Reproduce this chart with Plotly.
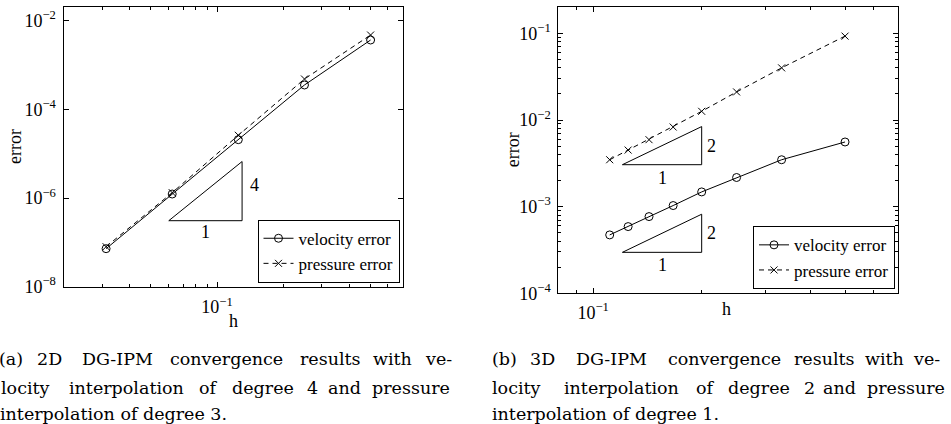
import numpy as np
import plotly.graph_objects as go

W, H = 951, 424

# ---------------- data ----------------
h_2d = [1/32, 1/16, 1/8, 1/4, 1/2]
vel_2d = [7.2e-8, 1.23e-6, 2.07e-5, 3.54e-4, 3.66e-3]
pre_2d = [7.98e-8, 1.32e-6, 2.6e-5, 4.83e-4, 4.74e-3]

h_3d = [1/9, 1/8, 1/7, 1/6, 1/5, 1/4, 1/3, 1/2]
vel_3d = [4.72e-4, 5.89e-4, 7.68e-4, 1.03e-3, 1.48e-3, 2.17e-3, 3.48e-3, 5.58e-3]
pre_3d = [3.48e-3, 4.5e-3, 5.93e-3, 8.3e-3, 1.26e-2, 2.11e-2, 4.0e-2, 9.3e-2]

# slope triangles: (h0, h1, e0, order)
tri_2d = [(0.0603, 0.130, 3.08e-7, 4)]
tri_3d = [(0.1205, 0.2, 3.05e-3, 2), (0.1205, 0.2, 2.97e-4, 2)]

# ticks
x2d_major = [0.1]
x2d_major_text = ["10<sup>\u22121</sup>"]
x2d_minor = [0.03, 0.04, 0.05, 0.06, 0.07, 0.08, 0.09, 0.2, 0.3, 0.4, 0.5, 0.6]
y2d_major = [1e-8, 1e-6, 1e-4, 1e-2]
y2d_major_text = ["10<sup>\u22128</sup>", "10<sup>\u22126</sup>", "10<sup>\u22124</sup>", "10<sup>\u22122</sup>"]

x3d_major = [0.1]
x3d_major_text = ["10<sup>\u22121</sup>"]
x3d_minor = [0.09, 0.2, 0.3, 0.4, 0.5, 0.6]
y3d_major = [1e-4, 1e-3, 1e-2, 1e-1]
y3d_major_text = ["10<sup>\u22124</sup>", "10<sup>\u22123</sup>", "10<sup>\u22122</sup>", "10<sup>\u22121</sup>"]
y3d_minor = [m * d for d in [1e-4, 1e-3, 1e-2, 1e-1] for m in range(2, 10)]

x2d_range = [0.02, 0.7]
y2d_range = [1e-8, 0.02]
x3d_range = [0.08, 0.7]
y3d_range = [1e-4, 0.2]

cap_a = [
    (["(a)", "2D", "DG-IPM", "convergence", "results", "with", "ve-"],
     [11, 49.5, 117, 226, 330, 392, 438]),
    (["locity", "interpolation", "of", "degree", "4", "and", "pressure"],
     [25, 126.3, 208.8, 263, 312.2, 344.7, 411]),
]
cap_a_last = "interpolation of degree 3."
cap_b = [
    (["(b)", "3D", "DG-IPM", "convergence", "results", "with", "ve-"],
     [504.1, 542.2, 611.3, 724.3, 824.3, 884, 926]),
    (["locity", "interpolation", "of", "degree", "2", "and", "pressure"],
     [516.9, 621.5, 705.5, 759, 809.5, 839, 906]),
]
cap_b_last = "interpolation of degree 1."

# ---------------- style ----------------
TIMES = "Liberation Serif, Times New Roman, serif"
CAPF = "DejaVu Serif, serif"
CAP_SIZE = 17.5
BLACK = "#000000"

fig = go.Figure()

def add_series(xa, ya, h, vel, pre, legend):
    fig.add_trace(go.Scatter(
        x=h, y=vel, mode="lines+markers", name="velocity error",
        xaxis=xa, yaxis=ya, legend=legend,
        line=dict(color=BLACK, width=1),
        marker=dict(symbol="circle-open", size=8, color=BLACK, line=dict(width=1, color=BLACK)),
    ))
    fig.add_trace(go.Scatter(
        x=h, y=pre, mode="lines+markers", name="pressure error",
        xaxis=xa, yaxis=ya, legend=legend,
        line=dict(color=BLACK, width=1, dash="5px,4px"),
        marker=dict(symbol="x-thin-open", size=7, color=BLACK, line=dict(width=1, color=BLACK)),
    ))

def add_triangles(xa, ya, tris):
    for (h0, h1, e0, p) in tris:
        e1 = e0 * (h1 / h0) ** p
        fig.add_trace(go.Scatter(
            x=[h0, h1, h1, h0], y=[e0, e0, e1, e0], mode="lines",
            xaxis=xa, yaxis=ya, showlegend=False, hoverinfo="skip",
            line=dict(color=BLACK, width=1),
        ))

add_series("x", "y", h_2d, vel_2d, pre_2d, "legend")
add_series("x2", "y2", h_3d, vel_3d, pre_3d, "legend2")
add_triangles("x", "y", tri_2d)
add_triangles("x2", "y2", tri_3d)

def px_x(p):
    return p / W

def px_y(p):
    return 1 - p / H

def log_axis(domain, rng, tv, tt, minor_vals, anchor, standoff):
    d = dict(
        type="log", domain=domain, range=[np.log10(rng[0]), np.log10(rng[1])],
        anchor=anchor, showline=True, linecolor=BLACK, linewidth=1,
        mirror="allticks", ticks="inside", ticklen=5, tickwidth=1, tickcolor=BLACK,
        tickmode="array", tickvals=tv, ticktext=tt,
        showgrid=False, zeroline=False, automargin=False,
        tickfont=dict(family=TIMES, size=18, color=BLACK),
        ticklabelstandoff=standoff,
    )
    if minor_vals:
        d["minor"] = dict(tickmode="array", tickvals=minor_vals, ticks="inside",
                          ticklen=3, tickwidth=1, tickcolor=BLACK, showgrid=False)
    return d

fig.update_layout(
    width=W, height=H, margin=dict(l=0, r=0, t=0, b=0, pad=0, autoexpand=False),
    paper_bgcolor="white", plot_bgcolor="white",
    xaxis=log_axis([px_x(63.5), px_x(402.7)], x2d_range, x2d_major, x2d_major_text, x2d_minor, "y", 4),
    yaxis=log_axis([px_y(286.7), px_y(7.3)], y2d_range, y2d_major, y2d_major_text, None, "x", 3),
    xaxis2=log_axis([px_x(558.3), px_x(897.7)], x3d_range, x3d_major, x3d_major_text, x3d_minor, "y2", 3),
    yaxis2=log_axis([px_y(293.3), px_y(7.3)], y3d_range, y3d_major, y3d_major_text, y3d_minor, "x2", 3),
    legend=dict(x=px_x(399.5), y=px_y(282.7), xanchor="right", yanchor="bottom",
                bgcolor="white", bordercolor=BLACK, borderwidth=1,
                font=dict(family=TIMES, size=17, color=BLACK), tracegroupgap=0),
    legend2=dict(x=px_x(895), y=px_y(289.3), xanchor="right", yanchor="bottom",
                 bgcolor="white", bordercolor=BLACK, borderwidth=1,
                 font=dict(family=TIMES, size=17, color=BLACK), tracegroupgap=0),
    showlegend=True,
)

ann = []
# axis titles
for (x, y) in [(15, 147), (513.3, 150)]:
    ann.append(dict(text="error", x=px_x(x), y=px_y(y), xref="paper", yref="paper",
                    textangle=-90, showarrow=False, xanchor="center", yanchor="middle",
                    font=dict(family=TIMES, size=18, color=BLACK)))
for (x, y) in [(233, 321), (726.7, 309)]:
    ann.append(dict(text="h", x=px_x(x), y=px_y(y), xref="paper", yref="paper",
                    showarrow=False, xanchor="center", yanchor="middle",
                    font=dict(family=TIMES, size=18, color=BLACK)))

# triangle labels
def tri_labels(xr, yr, tris, shift_order, shift_one):
    for (h0, h1, e0, p) in tris:
        e1 = e0 * (h1 / h0) ** p
        ann.append(dict(text=str(p), x=np.log10(h1), y=(np.log10(e0) + np.log10(e1)) / 2,
                        xref=xr, yref=yr, showarrow=False, xanchor="center", yanchor="middle",
                        xshift=shift_order[0], yshift=shift_order[1],
                        font=dict(family=TIMES, size=18, color=BLACK)))
        ann.append(dict(text="1", x=(np.log10(h0) + np.log10(h1)) / 2, y=np.log10(e0),
                        xref=xr, yref=yr, showarrow=False, xanchor="center", yanchor="middle",
                        yshift=shift_one,
                        font=dict(family=TIMES, size=18, color=BLACK)))

tri_labels("x", "y", tri_2d, (12.7, 6), -11)
tri_labels("x2", "y2", tri_3d, (10, 0), -13)

# captions
line_y = [359, 387.5, 414]
for cap, last, x_last in [(cap_a, cap_a_last, -2), (cap_b, cap_b_last, 489.5)]:
    for li, (words, centers) in enumerate(cap):
        for w, c in zip(words, centers):
            ann.append(dict(text=w, x=px_x(c), y=px_y(line_y[li]), xref="paper", yref="paper",
                            showarrow=False, xanchor="center", yanchor="middle",
                            font=dict(family=CAPF, size=CAP_SIZE, color=BLACK)))
    ann.append(dict(text=last, x=px_x(x_last), y=px_y(line_y[2]), xref="paper", yref="paper",
                    showarrow=False, xanchor="left", yanchor="middle",
                    font=dict(family=CAPF, size=CAP_SIZE, color=BLACK)))

fig.update_layout(annotations=ann)
# remove the browser's default 8px body margin so the figure sits at the window origin
fig.write_html(
    "out.html",
    config={"displayModeBar": False},
    post_script="document.body.style.margin='0px';document.documentElement.style.overflow='hidden';",
)
